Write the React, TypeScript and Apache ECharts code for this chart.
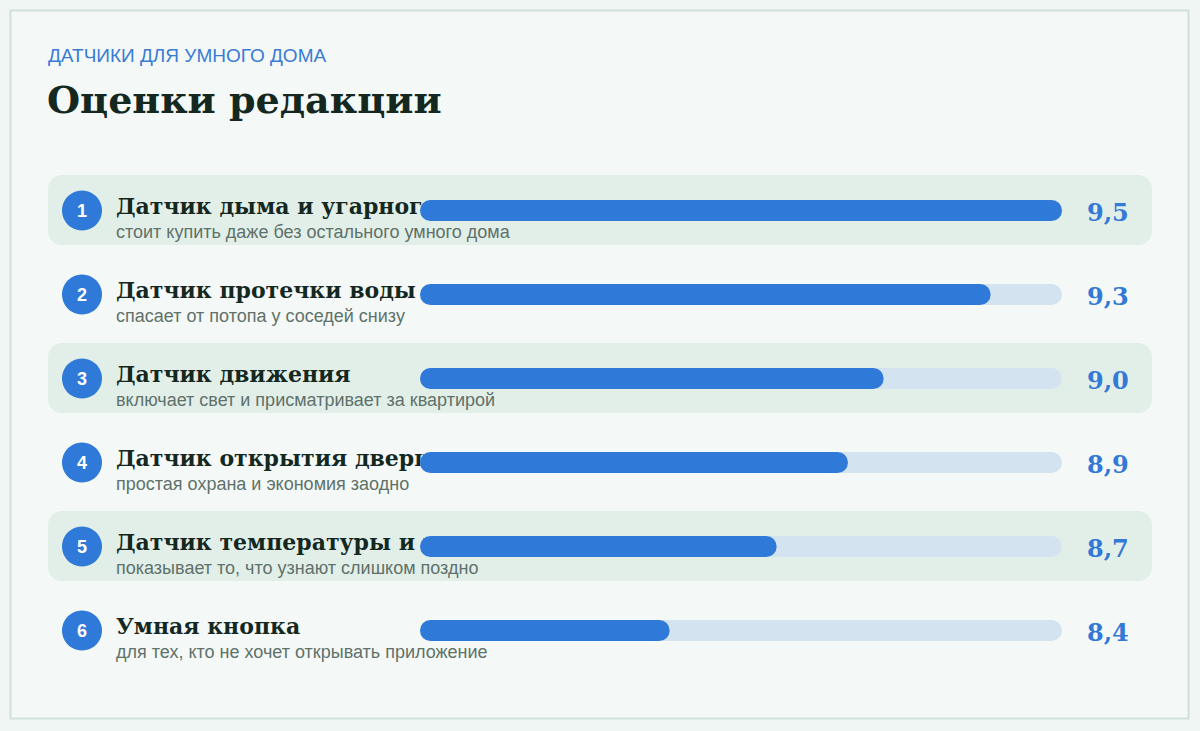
import React, { useEffect, useRef } from "react";
import * as echarts from "echarts";

const KICKER = "ДАТЧИКИ ДЛЯ УМНОГО ДОМА";
const TITLE = "Оценки редакции";

const names = [
  "Датчик дыма и угарного газа",
  "Датчик протечки воды",
  "Датчик движения",
  "Датчик открытия двери",
  "Датчик температуры и влажности",
  "Умная кнопка",
];

const notes = [
  "стоит купить даже без остального умного дома",
  "спасает от потопа у соседей снизу",
  "включает свет и присматривает за квартирой",
  "простая охрана и экономия заодно",
  "показывает то, что узнают слишком поздно",
  "для тех, кто не хочет открывать приложение",
];

const scores = [9.5, 9.3, 9.0, 8.9, 8.7, 8.4];

const AXIS_MIN = 7.7;
const AXIS_MAX = 9.5;

const BLUE = "#2f7ad8";
const SERIF = "'DejaVu Serif', Georgia, serif";
const SANS = "'Liberation Sans', Arial, sans-serif";

export default function App() {
  const ref = useRef<HTMLDivElement>(null);

  useEffect(() => {
    document.body.style.margin = "0";
    const chart = echarts.init(ref.current!, null, { renderer: "svg" });

    chart.setOption({
      animation: false,
      backgroundColor: "#eff6f3",
      graphic: [
        {
          type: "rect",
          z: -10,
          shape: { x: 10.5, y: 10.5, width: 1178, height: 708 },
          style: { fill: "#f4f9f7", stroke: "#cfe2da", lineWidth: 2 },
        },
        {
          type: "text",
          x: 48,
          y: 55,
          style: {
            text: KICKER,
            font: `19px ${SANS}`,
            fill: "#3a7bd5",
            verticalAlign: "middle",
          },
        },
        {
          type: "text",
          x: 47,
          y: 99,
          style: {
            text: TITLE,
            font: `bold 38px ${SERIF}`,
            fill: "#14281f",
            verticalAlign: "middle",
          },
        },
      ],
      grid: { left: 420, right: 138, top: 168.5, bottom: 58.5 },
      xAxis: {
        type: "value",
        min: AXIS_MIN,
        max: AXIS_MAX,
        startValue: AXIS_MIN,
        show: false,
      },
      yAxis: {
        type: "category",
        data: names,
        inverse: true,
        show: false,
      },
      series: [
        {
          type: "custom",
          z: 1,
          clip: false,
          silent: true,
          data: scores.map((s, i) => [AXIS_MIN, i, s]),
          encode: { x: 0, y: 1 },
          renderItem: (params: any, api: any) => {
            const i = params.dataIndex;
            const cy = api.coord([AXIS_MIN, i])[1];
            const children: any[] = [];
            if (i % 2 === 0) {
              children.push({
                type: "rect",
                shape: { x: 48, y: cy - 35.5, width: 1104, height: 70, r: 14 },
                style: { fill: "#e2efe9" },
              });
            }
            children.push(
              {
                type: "circle",
                shape: { cx: 82, cy: cy, r: 20 },
                style: { fill: BLUE },
              },
              {
                type: "text",
                x: 82,
                y: cy + 0.5,
                style: {
                  text: String(i + 1),
                  font: `bold 18px ${SANS}`,
                  fill: "#ffffff",
                  align: "center",
                  verticalAlign: "middle",
                },
              },
              {
                type: "text",
                x: 116,
                y: cy - 5,
                style: {
                  text: names[i],
                  font: `bold 22px ${SERIF}`,
                  fill: "#14281f",
                  verticalAlign: "middle",
                },
              },
              {
                type: "text",
                x: 116,
                y: cy + 21,
                style: {
                  text: notes[i],
                  font: `18px ${SANS}`,
                  fill: "#5f716a",
                  verticalAlign: "middle",
                },
              },
              {
                type: "text",
                x: 1087,
                y: cy + 2,
                style: {
                  text: scores[i].toFixed(1).replace(".", ","),
                  font: `bold 24px ${SERIF}`,
                  fill: "#3379d6",
                  verticalAlign: "middle",
                },
              }
            );
            return { type: "group", children };
          },
        },
        {
          type: "bar",
          z: 3,
          data: scores,
          barWidth: 21,
          itemStyle: { color: BLUE, borderRadius: 10.5 },
          showBackground: true,
          backgroundStyle: { color: "#d3e3f0", borderRadius: 10.5 },
        },
      ],
    });

    return () => {
      chart.dispose();
    };
  }, []);

  return (
    <div
      ref={ref}
      style={{ position: "fixed", left: 0, top: 0, width: 1200, height: 731 }}
    />
  );
}
